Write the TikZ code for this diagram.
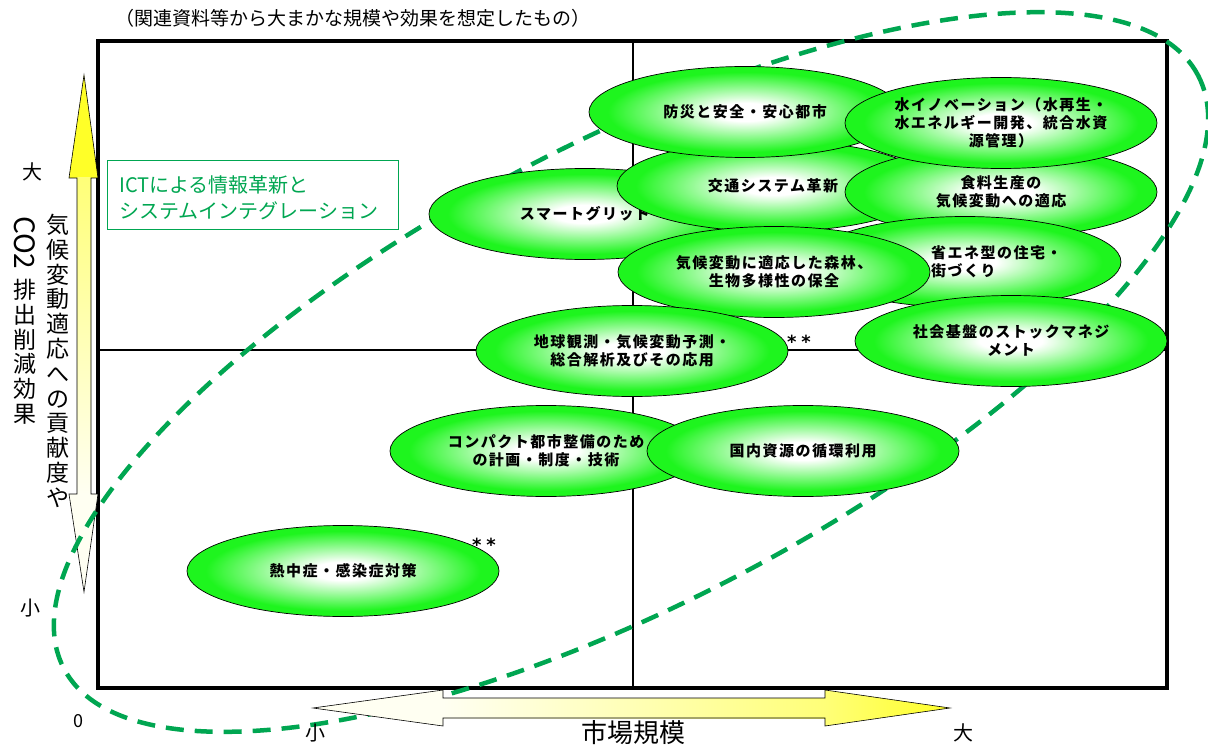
\documentclass[tikz,border=0pt]{standalone}
\usepackage{fontspec}
\setmainfont{Noto Sans CJK JP}
\newfontfamily\djv{DejaVu Sans}
\usetikzlibrary{shapes.geometric}
\definecolor{eg}{RGB}{30,245,30}
\definecolor{dgreen}{RGB}{0,166,81}
\definecolor{ylw}{RGB}{255,255,40}
\definecolor{lylw}{RGB}{255,255,120}
\definecolor{ivory}{RGB}{255,255,242}
\pgfdeclareradialshading{ellgreen}{\pgfpoint{0bp}{0bp}}{color(0bp)=(white); color(5bp)=(white); color(22bp)=(eg); color(50bp)=(eg)}
\newcommand{\etfont}{\fontsize{15}{18}\selectfont\bfseries\addfontfeatures{LetterSpace=10}}
\tikzset{
  ell/.style={ellipse, draw=black, line width=0.7pt, shading=ellgreen,
    minimum width=312pt, minimum height=91pt, inner sep=0pt, align=center, font=\etfont},
  etext/.style={inner sep=0pt, align=left, font=\etfont},
  lbl/.style={inner sep=0pt, font=\fontsize{20}{20}\selectfont},
  star/.style={inner sep=0pt, font=\djv\bfseries\fontsize{18}{18}\selectfont},
  vcol/.style={inner sep=0pt, align=center, anchor=north, font=\fontsize{23}{24.8}\selectfont},
  arrowline/.style={draw=black, line width=0.6pt, line join=miter},
}
\begin{document}
\begin{tikzpicture}[x=1pt,y=-1pt]
\useasboundingbox (0,0) rectangle (1208,749);
% title
\node[inner sep=0pt, font=\fontsize{19}{19}\selectfont] (title) at (353,18) {（関連資料等から大まかな規模や効果を想定したもの）};
% frame
\coordinate (fTL) at (98,41);
\coordinate (fBR) at (1167,688);
\coordinate (vT) at (633,41);
\coordinate (vB) at (633,688);
\coordinate (hL) at (98,350);
\coordinate (hR) at (1167,350);
\draw[line width=1.5pt] (vT) -- (vB);
\draw[line width=1.5pt] (hL) -- (hR);
\draw[line width=3.5pt] (fTL) rectangle (fBR);
% vertical arrow
\fill[ylw] (84,75) -- (98,178) -- (69,178) -- cycle;
\shade[top color=lylw, bottom color=ivory] (77,178) rectangle (91,494);
\fill[ivory] (69,494) -- (98,494) -- (84,592) -- cycle;
\draw[arrowline] (84,75) -- (98,178) -- (91,178) -- (91,494) -- (98,494) -- (84,592) -- (69,494) -- (77,494) -- (77,178) -- (69,178) -- cycle;
% vertical labels
\node[vcol] (vt1) at (58,214) {気\\候\\変\\動\\適\\応\\へ\\の\\貢\\献\\度\\や};
\node[rotate=-90, anchor=west, inner sep=0pt, font=\fontsize{28}{28}\selectfont] (co2) at (25,216) {CO2};
\node[vcol] (vt2) at (25,279) {排\\出\\削\\減\\効\\果};
\node[lbl] (ybig) at (33,172) {大};
\node[lbl] (ysmall) at (30,608) {小};
\node[lbl, font=\fontsize{18}{18}\selectfont] (zero) at (78,721) {0};
% dashed ellipse
\draw[dgreen, line width=4.5pt, dash pattern=on 18pt off 11pt, rotate around={27.6:(631,372)}] (631,372) ellipse [x radius=640pt, y radius=230pt];
% horizontal arrow
\fill[ivory] (313,708) -- (443,690) -- (443,726) -- cycle;
\shade[left color=ivory, right color=lylw] (443,698) rectangle (825,718);
\shade[left color=lylw, right color=ylw] (825,690) -- (950,708) -- (825,726) -- cycle;
\draw[arrowline] (313,708) -- (443,690) -- (443,698) -- (825,698) -- (825,690) -- (950,708) -- (825,726) -- (825,718) -- (443,718) -- (443,726) -- cycle;
\node[lbl] (xsmall) at (315,733) {小};
\node[lbl, font=\fontsize{26}{26}\selectfont] (xlabel) at (633,733) {市場規模};
\node[lbl] (xbig) at (963,733) {大};
% ICT box
\node[draw=dgreen, line width=1pt, minimum width=291pt, minimum height=68pt, inner sep=0pt] (ictbox) at (252.5,195) {};
\node[anchor=west, inner sep=0pt, align=left, text=dgreen, font=\fontsize{20}{26}\selectfont] (ict) at (119,198) {ICTによる情報革新と\\システムインテグレーション};
% ellipses
\node[ell] (e5) at (585,214) {スマートグリッド};
\node[ell] (e3) at (773,186) {交通システム革新};
\node[ell] (e1) at (745,112) {防災と安全・安心都市};
\node[ell] (e4) at (1001,192) {食料生産の\\気候変動への適応};
\node[ell] (e2) at (1001,123) {水イノベーション（水再生・\\水エネルギー開発、統合水資\\源管理）};
\node[ell] (e7) at (965,262) {};
\node[etext, anchor=north west] (t7) at (931,245) {省エネ型の住宅・\\街づくり};
\node[ell] (e6) at (774,272) {気候変動に適応した森林、\\生物多様性の保全};
\node[ell] (e8) at (1011,341) {社会基盤のストックマネジ\\メント};
\node[ell] (e9) at (632,351) {地球観測・気候変動予測・\\総合解析及びその応用};
\node[ell] (e10) at (546,451) {コンパクト都市整備のため\\の計画・制度・技術};
\node[ell] (e11) at (803,451) {国内資源の循環利用};
\node[ell] (e12) at (343,571) {熱中症・感染症対策};
% asterisks
\node[star] (s1) at (799,342) {*\hspace{5pt}*};
\node[star] (s2) at (484,545) {*\hspace{5pt}*};
\end{tikzpicture}
\end{document}
